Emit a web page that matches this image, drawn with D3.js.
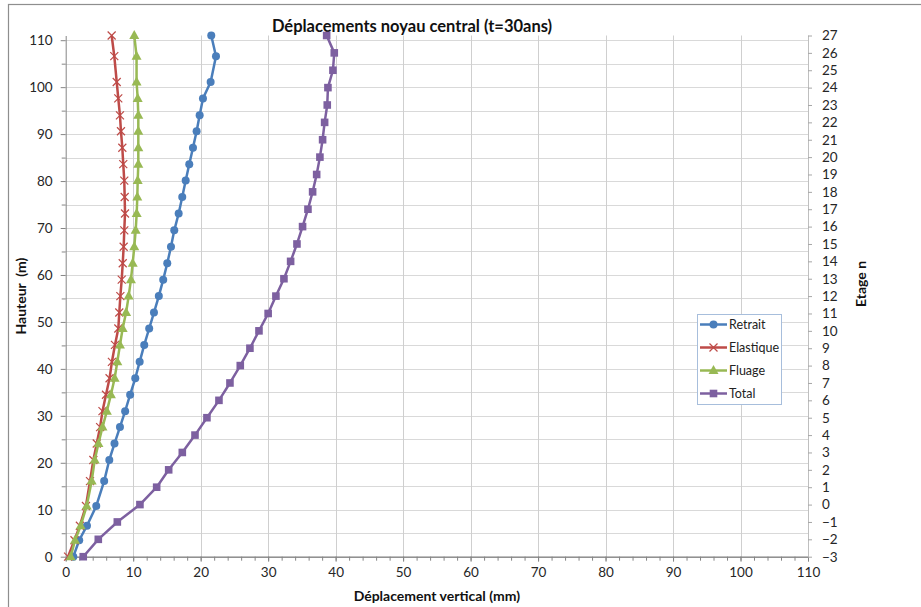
<!DOCTYPE html>
<html>
<head>
<meta charset="utf-8">
<script src="https://cdn.jsdelivr.net/npm/d3@7"></script>
<style>
  body { margin: 0; background: #fff; }
  svg { display: block; font-family: Lato, "Open Sans", sans-serif; }
</style>
</head>
<body>
<svg id="chart" width="921" height="607"></svg>
<script>
// heights (m) shared by Retrait / Elastique / Fluage
const heights = [0, 3.5, 6.6, 10.8, 16.1, 20.6, 24.1, 27.6, 31.0, 34.5, 38.0, 41.5, 45.1, 48.6, 52.0,
  55.5, 59.0, 62.5, 66.0, 69.5, 73.1, 76.6, 80.1, 83.6, 87.1, 90.6, 94.0, 97.6, 101.1, 106.6, 111.0];
const retrait = [1.13, 2.0, 3.15, 4.53, 5.7, 6.46, 7.23, 8.04, 8.81, 9.55, 10.31, 10.96, 11.64, 12.37, 13.08,
  13.8, 14.45, 15.05, 15.6, 16.09, 16.74, 17.27, 17.78, 18.31, 18.86, 19.4, 19.85, 20.34, 21.48, 22.27, 21.57];
const elastique = [0.35, 1.3, 2.1, 3.0, 3.6, 4.1, 4.6, 5.1, 5.45, 5.97, 6.5, 6.85, 7.3, 7.8, 7.94,
  8.1, 8.3, 8.45, 8.59, 8.68, 8.79, 8.74, 8.68, 8.53, 8.39, 8.19, 8.04, 7.79, 7.56, 7.2, 6.81];
const fluage = [0.74, 1.38, 2.22, 3.11, 3.85, 4.3, 4.85, 5.45, 6.1, 6.7, 7.25, 7.65, 8.04, 8.44, 8.95,
  9.33, 9.67, 9.93, 10.16, 10.37, 10.52, 10.61, 10.67, 10.76, 10.76, 10.76, 10.76, 10.67, 10.5, 10.5, 10.16];
// Total is plotted on its own heights
const totalHeights = [0, 3.7, 7.4, 11.1, 14.8, 18.5, 22.2, 25.9, 29.6, 33.3, 37, 40.7, 44.4, 48.1, 51.8,
  55.5, 59.2, 62.9, 66.6, 70.3, 74, 77.7, 81.4, 85.1, 88.8, 92.5, 96.2, 99.9, 103.6, 107.3, 111];
const total = [2.6, 4.83, 7.65, 11.0, 13.48, 15.26, 17.28, 19.16, 20.93, 22.71, 24.34, 25.87, 27.3, 28.64, 30.0,
  31.15, 32.34, 33.33, 34.27, 35.1, 35.9, 36.59, 37.19, 37.67, 38.07, 38.37, 38.76, 38.86, 39.6, 39.8, 38.67];

const xTicks = [0, 10, 20, 30, 40, 50, 60, 70, 80, 90, 100, 110];
const yTicks = [0, 10, 20, 30, 40, 50, 60, 70, 80, 90, 100, 110];
const etages = d3.range(-3, 28);

const series = [
  { name: 'Retrait', color: '#4a7ebb', marker: 'circle', xs: retrait, ys: heights },
  { name: 'Elastique', color: '#be4b48', marker: 'x', xs: elastique, ys: heights },
  { name: 'Fluage', color: '#98b954', marker: 'triangle', xs: fluage, ys: heights },
  { name: 'Total', color: '#7d60a0', marker: 'square', xs: total, ys: totalHeights }
];

const svg = d3.select('#chart');
const plotL = 65.7, plotR = 808, plotT = 35.5, plotB = 556.7;

const x = d3.scaleLinear().domain([0, 110]).range([plotL, plotR]);
const y = d3.scaleLinear().domain([0, 111]).range([plotB, plotT]);
const yEtage = d3.scaleLinear().domain([-3, 27]).range([plotB, plotT]);

// chart frame
svg.append('rect')
  .attr('x', 8.5).attr('y', 4.5).attr('width', 1000).attr('height', 1000)
  .attr('fill', 'none').attr('stroke', '#8e8e8e').attr('stroke-width', 1.2);

// grid
svg.append('g').selectAll('line').data(d3.range(5, 111, 5))
  .join('line')
  .attr('x1', plotL).attr('x2', plotR)
  .attr('y1', d => Math.round(y(d)) + 0.5).attr('y2', d => Math.round(y(d)) + 0.5)
  .attr('stroke', '#d9d9d9').attr('stroke-width', 1);
svg.append('g').selectAll('line').data(xTicks.slice(1))
  .join('line')
  .attr('x1', d => Math.round(x(d)) + 0.5).attr('x2', d => Math.round(x(d)) + 0.5)
  .attr('y1', plotT).attr('y2', plotB)
  .attr('stroke', '#cfcfcf').attr('stroke-width', 1);

function styleAxis(g) {
  g.select('.domain').attr('stroke', '#868686');
  g.selectAll('.tick line').attr('stroke', '#868686');
  g.selectAll('.tick text').attr('fill', '#262626').style('font-size', '13.5px').style('font-family', 'Lato, sans-serif');
}

// x axis
svg.append('g')
  .attr('transform', `translate(0,${plotB})`)
  .call(d3.axisBottom(x).tickValues(d3.range(0, 111, 2)).tickSize(4).tickFormat(''))
  .call(styleAxis);
svg.append('g')
  .attr('transform', `translate(0,${plotB})`)
  .call(d3.axisBottom(x).tickValues(xTicks).tickSize(5).tickPadding(6).tickSizeOuter(0))
  .call(styleAxis);

// left axis
svg.append('g')
  .attr('transform', `translate(${plotL},0)`)
  .call(d3.axisLeft(y).tickValues(d3.range(5, 111, 10)).tickSize(4).tickFormat(''))
  .call(styleAxis)
  .call(g => g.select('.domain').remove());
svg.append('g')
  .attr('transform', `translate(${plotL},0)`)
  .call(d3.axisLeft(y).tickValues(yTicks).tickSize(5).tickPadding(8).tickSizeOuter(0))
  .call(styleAxis);

// right axis (étages)
svg.append('g')
  .attr('transform', `translate(${plotR},0)`)
  .call(d3.axisRight(yEtage).tickValues(etages).tickSize(4).tickPadding(10).tickSizeOuter(0))
  .call(styleAxis)
  .call(g => g.select('.domain').attr('stroke', '#bfbfbf'))
  .call(g => g.selectAll('.tick line').attr('stroke', '#a6a6a6'));

// titles
svg.append('text')
  .attr('x', 412).attr('y', 32)
  .attr('text-anchor', 'middle')
  .style('font-size', '16.5px').style('font-weight', 'bold').attr('fill', '#111')
  .text('Déplacements noyau central (t=30ans)');
svg.append('text')
  .attr('x', (plotL + plotR) / 2).attr('y', 601)
  .attr('text-anchor', 'middle')
  .style('font-size', '14px').style('font-weight', 'bold').attr('fill', '#111')
  .text('Déplacement vertical (mm)');
svg.append('text')
  .attr('transform', `translate(26,${(plotT + plotB) / 2}) rotate(-90)`)
  .attr('text-anchor', 'middle')
  .style('font-size', '14px').style('font-weight', 'bold').attr('fill', '#111')
  .style('white-space', 'pre')
  .text('Hauteur  (m)');
svg.append('text')
  .attr('transform', `translate(866,284) rotate(-90)`)
  .attr('text-anchor', 'middle')
  .style('font-size', '14px').style('font-weight', 'bold').attr('fill', '#111')
  .text('Etage n');

// markers
function drawMarker(g, type, color, cx, cy) {
  if (type === 'circle') {
    g.append('circle').attr('cx', cx).attr('cy', cy).attr('r', 4).attr('fill', color);
  } else if (type === 'square') {
    g.append('rect').attr('x', cx - 3.8).attr('y', cy - 3.8).attr('width', 7.6).attr('height', 7.6).attr('fill', color);
  } else if (type === 'triangle') {
    g.append('path').attr('d', `M${cx},${cy - 5.5}L${cx + 5},${cy + 3.5}L${cx - 5},${cy + 3.5}Z`).attr('fill', color);
  } else if (type === 'x') {
    g.append('path').attr('d', `M${cx - 4},${cy - 4}L${cx + 4},${cy + 4}M${cx - 4},${cy + 4}L${cx + 4},${cy - 4}`)
      .attr('stroke', color).attr('stroke-width', 1.2).attr('fill', 'none');
  }
}

const line = d3.line().x(d => x(d[0])).y(d => y(d[1]));

series.forEach(s => {
  const pts = s.xs.map((v, i) => [v, s.ys[i]]);
  const g = svg.append('g');
  g.append('path').datum(pts)
    .attr('d', line)
    .attr('fill', 'none').attr('stroke', s.color).attr('stroke-width', 2.5)
    .attr('stroke-linejoin', 'round');
  pts.forEach(p => drawMarker(g, s.marker, s.color, x(p[0]), y(p[1])));
});

// legend
const lg = svg.append('g');
lg.append('rect')
  .attr('x', 697.5).attr('y', 314.5).attr('width', 84).attr('height', 90)
  .attr('fill', '#fff').attr('stroke', '#a7bedc');
series.forEach((s, i) => {
  const ly = 324.5 + i * 23;
  lg.append('line').attr('x1', 700).attr('x2', 727).attr('y1', ly).attr('y2', ly)
    .attr('stroke', s.color).attr('stroke-width', 2.5);
  drawMarker(lg, s.marker, s.color, 713.5, ly);
  lg.append('text').attr('x', 729).attr('y', ly + 4.5)
    .style('font-size', '12.5px').attr('fill', '#222')
    .text(s.name);
});
</script>
</body>
</html>
